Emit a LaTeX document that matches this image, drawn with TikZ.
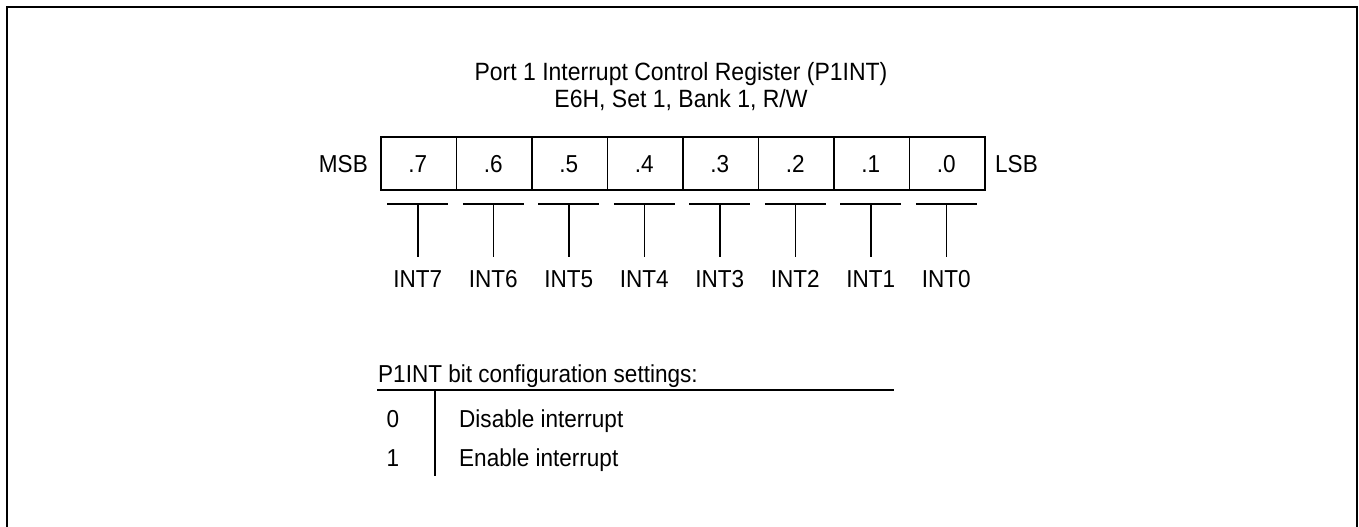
\documentclass[tikz,border=0pt]{standalone}
\usepackage{fontspec}
\setmainfont{Liberation Sans}[FakeStretch=0.92]
\begin{document}
\begin{tikzpicture}[x=1pt,y=-1pt,
  txt/.style={font=\fontsize{24.5}{28}\selectfont, inner sep=0pt, anchor=base},
  ttl/.style={font=\fontsize{25}{30}\selectfont, inner sep=0pt, anchor=base},
  cell/.style={draw, line width=1.5pt, minimum width=75.5pt, minimum height=53pt, inner sep=0pt, anchor=north west},
  tbar/.style={line width=1.5pt},
  frame/.style={line width=2.5pt}]
\useasboundingbox (0,0) rectangle (1359,527);
\draw[frame] (7,528) -- (7,7) -- (1357,7) -- (1357,528);
\node[ttl] (t1) at (681,81) {Port 1 Interrupt Control Register (P1INT)};
\node[ttl] (t2) at (681,107) {E6H, Set 1, Bank 1, R/W};
\foreach \i [count=\k from 0] in {7,6,5,4,3,2,1,0} {
  \node[cell] (c\i) at ({380+75.5*\k},136) {};
  \node[txt] (l\i) at ({380+75.5*\k+37.75},172) {.\i};
  \coordinate (bl\i) at ({380+75.5*\k+37.75-30.5},204);
  \coordinate (br\i) at ({380+75.5*\k+37.75+30.5},204);
  \coordinate (bm\i) at ({380+75.5*\k+37.75},204);
  \coordinate (be\i) at ({380+75.5*\k+37.75},257);
  \draw[tbar] (bl\i) -- (br\i);
  \draw[tbar] (bm\i) -- (be\i);
  \node[txt] (n\i) at ({380+75.5*\k+37.75},287) {INT\i};
}
\node[txt, anchor=base east] (msb) at (368,172) {MSB};
\node[txt, anchor=base west] (lsb) at (995,172) {LSB};
\node[txt, anchor=base west] (cfg) at (378,382) {P1INT bit configuration settings:};
\coordinate (hl) at (377,390);
\coordinate (hr) at (894,390);
\draw[line width=1.8pt] (hl) -- (hr);
\coordinate (vt) at (435,390);
\coordinate (vb) at (435,476);
\draw[line width=1.8pt] (vt) -- (vb);
\node[txt] (v0) at (393,427) {0};
\node[txt] (v1) at (393,466) {1};
\node[txt, anchor=base west] (d0) at (459,427) {Disable interrupt};
\node[txt, anchor=base west] (d1) at (459,466) {Enable interrupt};
\end{tikzpicture}
\end{document}
